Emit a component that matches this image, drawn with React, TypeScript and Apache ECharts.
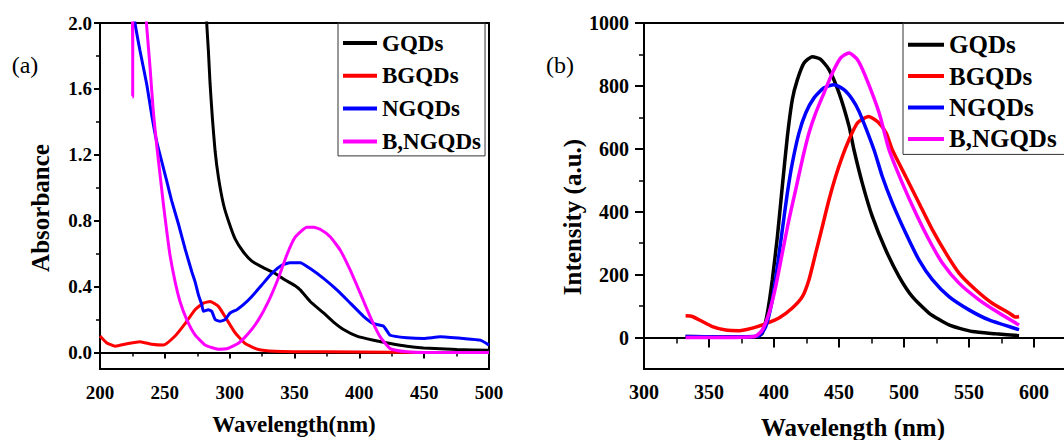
import React, { useEffect, useRef } from "react";
import * as echarts from "echarts";

const FONT = "'Liberation Serif', 'Times New Roman', serif";
const NAMES = ["GQDs", "BGQDs", "NGQDs", "B,NGQDs"];
const COLORS = ["#000000", "#ff0000", "#0000ff", "#ff00ff"];

// Panel (a): absorbance
const absGQDs: number[][] = [
  [281.2, 2.3], [282.3, 2.0], [283.6, 1.83], [284.9, 1.63], [286.7, 1.42], [288.8, 1.22],
  [291.4, 1.06], [295.2, 0.9], [299.0, 0.8], [304.2, 0.69], [310.6, 0.61], [317.1, 0.555],
  [324.8, 0.52], [335.1, 0.48], [342.8, 0.44], [350.5, 0.405], [354.4, 0.38], [362.1, 0.31],
  [372.4, 0.24], [380.1, 0.185], [387.8, 0.14], [398.1, 0.1], [411, 0.075], [423.8, 0.055],
  [436.7, 0.038], [449.5, 0.028], [475.3, 0.018], [500, 0.014],
];
const absBGQDs: number[][] = [
  [200, 0.1], [205, 0.06], [211.6, 0.038], [221.9, 0.055], [230.9, 0.066], [239.9, 0.05],
  [248.9, 0.045], [257.9, 0.1], [265.6, 0.175], [273.3, 0.26], [279.7, 0.3], [284.9, 0.31],
  [291.3, 0.28], [297.8, 0.2], [304.2, 0.12], [311.9, 0.055], [322.2, 0.018], [335, 0.007],
  [350, 0.005], [400, 0.003], [450, 0.0], [500, 0.0],
];
const absNGQDs: number[][] = [
  [226.2, 2.1], [227.0, 2.0], [230.9, 1.83], [236.0, 1.63], [239.9, 1.44], [243.7, 1.28],
  [247.6, 1.16], [251.5, 1.04], [255.3, 0.92], [260.5, 0.78], [265.6, 0.63], [270.8, 0.49],
  [273.3, 0.43], [275.9, 0.35], [278.5, 0.29], [279.8, 0.25], [283.6, 0.26], [286.2, 0.25],
  [288.8, 0.2], [292.6, 0.19], [296.5, 0.2], [300.3, 0.24], [305.5, 0.26], [310.6, 0.29],
  [317.1, 0.34], [324.8, 0.41], [332.5, 0.48], [340.2, 0.53], [346.6, 0.545], [354.4, 0.545],
  [362.1, 0.51], [372.4, 0.45], [382.7, 0.38], [393, 0.3], [403.2, 0.22], [411, 0.175],
  [418.7, 0.16], [423.8, 0.105], [436.7, 0.09], [449.5, 0.085], [462.4, 0.095], [480.4, 0.085],
  [493.3, 0.075], [500, 0.045],
];
const absBNGQDs: number[][] = [
  [224.9, 2.3], [225.2, 1.55], [225.6, 2.3], [233.5, 2.3], [235.8, 2.0], [238.6, 1.73],
  [241.1, 1.465], [243.7, 1.26], [246.3, 1.08], [248.9, 0.9], [251.5, 0.735], [254.0, 0.59],
  [257.9, 0.43], [261.7, 0.31], [266.9, 0.2], [273.3, 0.107], [281, 0.046], [291.3, 0.02],
  [299, 0.026], [306.7, 0.056], [314.5, 0.117], [322.2, 0.198], [329.9, 0.31], [337.6, 0.452],
  [344.1, 0.593], [350.5, 0.7], [359.5, 0.76], [365, 0.76], [369.8, 0.748], [377.5, 0.703],
  [385.2, 0.622], [393, 0.5], [400.7, 0.36], [408.4, 0.217], [416.1, 0.095], [423.8, 0.024],
  [436.7, 0.004], [450, 0.0], [500, 0.0],
];

// Panel (b): photoluminescence
const plGQDs: number[][] = [
  [332, 3], [360, 2], [386, 2], [391, 14], [394.9, 78], [398.7, 184], [402.6, 321], [406.4, 481],
  [410.3, 640], [414.1, 757], [418, 820], [423.1, 873], [429.5, 893], [435.9, 884], [442.3, 852],
  [450, 778], [457.7, 672], [461.5, 597], [467.9, 491], [475.6, 385], [485.9, 279], [496.2, 194],
  [506.4, 130], [519.2, 78], [534.6, 40], [552.6, 19], [570.5, 12], [588.5, 6],
];
const plBGQDs: number[][] = [
  [332, 69], [337.2, 67], [344.9, 51], [352.6, 35], [362.8, 24], [373.1, 22], [383.3, 30],
  [393.6, 44], [403.8, 62], [414.1, 94], [421.8, 130], [426.9, 184], [432.1, 269], [437.2, 353],
  [442.3, 438], [447.4, 512], [452.6, 576], [457.7, 629], [464.1, 682], [472.9, 703], [480, 685],
  [486.3, 650], [491, 597], [501.3, 512], [511.5, 428], [521.8, 343], [532.1, 269], [542.3, 205],
  [555.1, 152], [567.9, 109], [580.8, 78], [586, 65], [588.5, 67],
];
const plNGQDs: number[][] = [
  [332, 3], [360, 2], [388, 5], [393.6, 35], [398.7, 120], [402.6, 226], [406.4, 343],
  [410.3, 460], [414.1, 555], [419.2, 650], [424.4, 714], [430.8, 762], [438.5, 794], [446.2, 804],
  [453.8, 788], [460.3, 757], [465.4, 719], [476.9, 597], [483.3, 512], [491, 428], [501.3, 332],
  [511.5, 247], [521.8, 184], [534.6, 130], [550, 88], [565.4, 56], [588.5, 25],
];
const plBNGQDs: number[][] = [
  [332, 0], [360, 0], [385, 3], [391, 24], [396.2, 78], [401.3, 162], [406.4, 269], [411.5, 375],
  [416.7, 470], [421.8, 566], [426.9, 650], [432.1, 714], [438.5, 778], [444.9, 841], [451.3, 889],
  [457.7, 905], [464.1, 884], [470.3, 831], [480.9, 714], [488.5, 597], [498.7, 491], [509, 396],
  [519.2, 311], [529.5, 237], [542.3, 173], [557.7, 120], [573.1, 78], [588.5, 40],
];

const absMajor = [0, 0.4, 0.8, 1.2, 1.6, 2.0];
const absMinor = [0.2, 0.6, 1.0, 1.4, 1.8];
const plMajor = [0, 200, 400, 600, 800, 1000];
const plMinor = [100, 300, 500, 700, 900];
const plXLabels = [300, 350, 400, 450, 500, 550, 600];

export default function App() {
  const ref = useRef<HTMLDivElement>(null);
  useEffect(() => {
    if (!ref.current) return;
    const chart = echarts.init(ref.current, undefined, { renderer: "svg" });
    const axisLine = { show: true, lineStyle: { color: "#000", width: 2 } };
    const label = (size: number, margin: number) => ({
      fontSize: size, fontWeight: "bold", fontFamily: FONT, color: "#000", margin,
    });
    const absSets = [absGQDs, absBGQDs, absNGQDs, absBNGQDs];
    const plSets = [plGQDs, plBGQDs, plNGQDs, plBNGQDs];
    const series: any[] = [];
    absSets.forEach((d, i) =>
      series.push({
        type: "line", name: NAMES[i], data: d, xAxisIndex: 0, yAxisIndex: 0,
        showSymbol: false, symbol: "none", smooth: 0.15, clip: true,
        lineStyle: { color: COLORS[i], width: 3 }, itemStyle: { color: COLORS[i] },
        emphasis: { disabled: true },
      })
    );
    plSets.forEach((d, i) =>
      series.push({
        type: "line", name: NAMES[i], data: d, xAxisIndex: 1, yAxisIndex: 2,
        showSymbol: false, symbol: "none", smooth: 0.2, clip: true,
        lineStyle: { color: COLORS[i], width: 3.5 }, itemStyle: { color: COLORS[i] },
        emphasis: { disabled: true },
      })
    );
    const legendBase = {
      orient: "vertical", data: NAMES, icon: "rect", itemHeight: 4,
      borderColor: "#333", borderWidth: 1, selectedMode: false,
    };
    chart.setOption({
      animation: false,
      textStyle: { fontFamily: FONT },
      grid: [
        { left: 100, top: 23, width: 389, height: 346, show: true, borderColor: "#000", borderWidth: 2, backgroundColor: "transparent", outerBoundsMode: "none", containLabel: false },
        { left: 644, top: 23, width: 455, height: 346, show: true, borderColor: "#000", borderWidth: 2, backgroundColor: "transparent", outerBoundsMode: "none", containLabel: false },
      ],
      legend: [
        {
          ...legendBase, left: 338, top: 23, itemWidth: 34, itemGap: 9.8,
          padding: [8.5, 4, 3, 5],
          textStyle: { fontSize: 23, lineHeight: 23, fontWeight: "bold", fontFamily: FONT, color: "#000" },
        },
        {
          ...legendBase, left: 903, top: 23, itemWidth: 36, itemGap: 6.4,
          padding: [9.2, 12, 3, 5],
          textStyle: { fontSize: 25, lineHeight: 25, fontWeight: "bold", fontFamily: FONT, color: "#000" },
        },
      ],
      xAxis: [
        {
          type: "value", gridIndex: 0, min: 200, max: 500, interval: 50,
          axisLine, splitLine: { show: false },
          axisTick: { length: 6, lineStyle: { color: "#000", width: 2 } },
          minorTick: { show: true, splitNumber: 2, length: 4, lineStyle: { color: "#000", width: 1.5 } },
          minorSplitLine: { show: false },
          axisLabel: { ...label(19, 14), formatter: (v: number) => String(v) },
        },
        {
          type: "value", gridIndex: 1, min: 300, max: 650, interval: 50,
          axisLine, splitLine: { show: false },
          axisTick: { length: 10, lineStyle: { color: "#000", width: 2 } },
          minorTick: { show: true, splitNumber: 2, length: 6, lineStyle: { color: "#000", width: 1.5 } },
          minorSplitLine: { show: false },
          axisLabel: { ...label(20, 13), customValues: plXLabels, formatter: (v: number) => String(v) },
        },
      ],
      yAxis: [
        {
          type: "value", gridIndex: 0, min: -0.1, max: 2.0, position: "left",
          axisLine, splitLine: { show: false },
          axisTick: { customValues: absMajor, length: 6, lineStyle: { color: "#000", width: 2 } },
          axisLabel: { ...label(19, 8), customValues: absMajor, formatter: (v: number) => v.toFixed(1) },
        },
        {
          type: "value", gridIndex: 0, min: -0.1, max: 2.0, position: "left",
          axisLine: { show: false }, splitLine: { show: false },
          axisTick: { customValues: absMinor, length: 4, lineStyle: { color: "#000", width: 1.5 } },
          axisLabel: { show: false },
        },
        {
          type: "value", gridIndex: 1, min: -100, max: 1000, position: "left",
          axisLine, splitLine: { show: false },
          axisTick: { customValues: plMajor, length: 9, lineStyle: { color: "#000", width: 2 } },
          axisLabel: { ...label(20, 15), customValues: plMajor, formatter: (v: number) => String(v) },
        },
        {
          type: "value", gridIndex: 1, min: -100, max: 1000, position: "left",
          axisLine: { show: false }, splitLine: { show: false },
          axisTick: { customValues: plMinor, length: 5, lineStyle: { color: "#000", width: 1.5 } },
          axisLabel: { show: false },
        },
      ],
      graphic: [
        { type: "text", x: 25, y: 65, style: { text: "(a)", fontSize: 24, fontFamily: FONT, fill: "#000", align: "center", verticalAlign: "middle" } },
        { type: "text", x: 560, y: 65, style: { text: "(b)", fontSize: 24, fontFamily: FONT, fill: "#000", align: "center", verticalAlign: "middle" } },
        { type: "text", x: 40, y: 208, rotation: Math.PI / 2, style: { text: "Absorbance", fontSize: 25, fontWeight: "bold", fontFamily: FONT, fill: "#000", align: "center", verticalAlign: "middle" } },
        { type: "text", x: 294, y: 424, style: { text: "Wavelength(nm)", fontSize: 23, fontWeight: "bold", fontFamily: FONT, fill: "#000", align: "center", verticalAlign: "middle" } },
        { type: "text", x: 572, y: 217, rotation: Math.PI / 2, style: { text: "Intensity (a.u.)", fontSize: 25, fontWeight: "bold", fontFamily: FONT, fill: "#000", align: "center", verticalAlign: "middle" } },
        { type: "text", x: 853, y: 427, style: { text: "Wavelength (nm)", fontSize: 25, fontWeight: "bold", fontFamily: FONT, fill: "#000", align: "center", verticalAlign: "middle" } },
      ],
      series,
    });
    return () => chart.dispose();
  }, []);
  return (
    <div style={{ position: "absolute", left: 0, top: 0, width: 1064, height: 440, overflow: "hidden", background: "#fff" }}>
      <div ref={ref} style={{ width: 1120, height: 440 }} />
    </div>
  );
}
